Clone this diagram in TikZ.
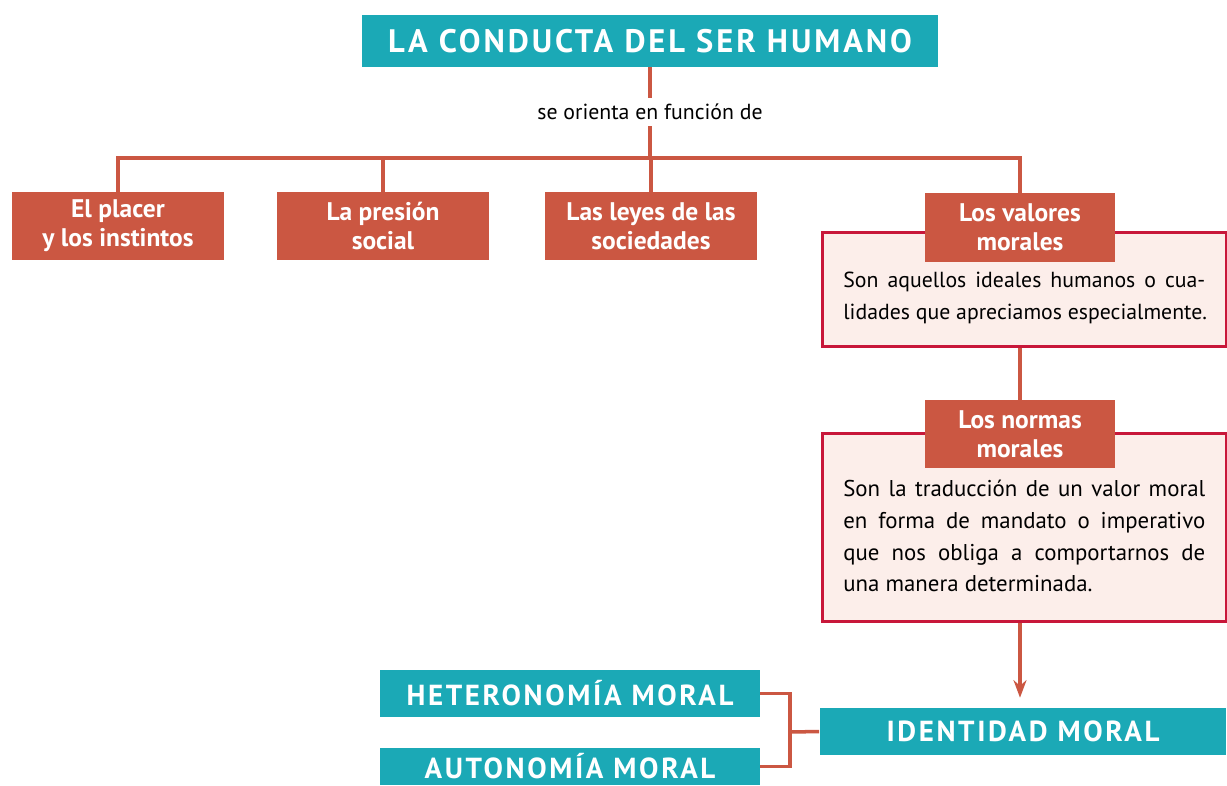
\documentclass[tikz,border=0pt]{standalone}
\usepackage{fontspec}
\setmainfont{PT Sans}
\newfontfamily\spacedfont[LetterSpace=9]{PT Sans}
\usetikzlibrary{arrows.meta,positioning}
\definecolor{tealbg}{HTML}{1BA9B6}
\definecolor{brick}{HTML}{CB5742}
\definecolor{crimson}{HTML}{C8173A}
\definecolor{blush}{HTML}{FCEEEA}

\begin{document}
\begin{tikzpicture}[
  x=0.02cm, y=-0.02cm,
  redbox/.style={fill=brick, text=white, font=\bfseries\fontsize{14.5}{16.5}\selectfont, align=center, minimum width=4.24cm, minimum height=1.36cm, inner sep=0pt},
  tealbox/.style={fill=tealbg, text=white, font=\spacedfont\bfseries\fontsize{16.5}{18}\selectfont, minimum height=0.94cm, inner sep=0pt},
  frame/.style={draw=crimson, line width=1.8pt, fill=blush, inner sep=0pt, anchor=north west, minimum width=8.08cm},
  body/.style={text width=7.24cm, align=justify, font=\fontsize{13}{18}\selectfont, inner sep=0pt, anchor=north west},
  link/.style={draw=brick, line width=2pt},
  >={Stealth[length=3.5mm, width=2.6mm]}
]
  \useasboundingbox[fill=white] (0,0) rectangle (1227,785);

  % top of the map
  \node[tealbox, font=\spacedfont\bfseries\fontsize{18.5}{20}\selectfont, minimum width=11.52cm, minimum height=1.04cm] (title) at (650,41) {LA CONDUCTA DEL SER HUMANO};
  \node[font=\fontsize{12.4}{14}\selectfont] (orient) at (650,112) {se orienta en función de};
  \coordinate (bus) at (650,158);

  \node[redbox] (placer) at (118,226) {El placer\\y los instintos};
  \node[redbox] (presion) at (383,226) {La presión\\social};
  \node[redbox] (leyes) at (651,226) {Las leyes de las\\sociedades};

  % values and norms
  \node[frame, minimum height=2.28cm] (valframe) at (821,231) {};
  \node[redbox, minimum width=3.8cm, minimum height=1.38cm] (valores) at (1020,227.5) {Los valores\\morales};
  \node[body, font=\fontsize{12.4}{18}\selectfont] (valtext) at (843,272) {Son aquellos ideales humanos o cua-\linebreak \mbox{lidades que apreciamos especialmente.}};

  \node[frame, minimum height=3.76cm] (normframe) at (821,432) {};
  \node[redbox, minimum width=3.8cm] (normas) at (1020,434) {Los normas\\morales};
  \node[body] (normtext) at (843,480) {Son la traducción de un valor moral\linebreak en forma de mandato o imperativo\linebreak que nos obliga a comportarnos de\linebreak una manera determinada.};

  % identity
  \node[tealbox, minimum width=8.14cm] (identidad) at (1023,731.5) {IDENTIDAD MORAL};
  \node[tealbox, minimum width=7.6cm] (hetero) at (570,693.5) {HETERONOMÍA MORAL};
  \node[tealbox, minimum width=7.6cm, minimum height=0.74cm] (auto) at (570,766.5) {AUTONOMÍA MORAL};
  \coordinate (join) at (790,732);

  \draw[link] (title) -- (orient);
  \draw[link] (orient) -- (bus);
  \draw[link] (placer.north) |- (bus) -| (valores.north);
  \draw[link] (presion.north) -- (presion.north |- bus);
  \draw[link] (leyes.north) -- (leyes.north |- bus);
  \draw[link] (valframe.south -| valores) -- (normas.north);
  \draw[link, ->, shorten >=2mm] (normframe.south -| normas) -- (identidad.north -| normas);
  \draw[link] (hetero.east) -| (join) |- (auto.east);
  \draw[link] (join) -- (identidad.west);
\end{tikzpicture}
\end{document}
